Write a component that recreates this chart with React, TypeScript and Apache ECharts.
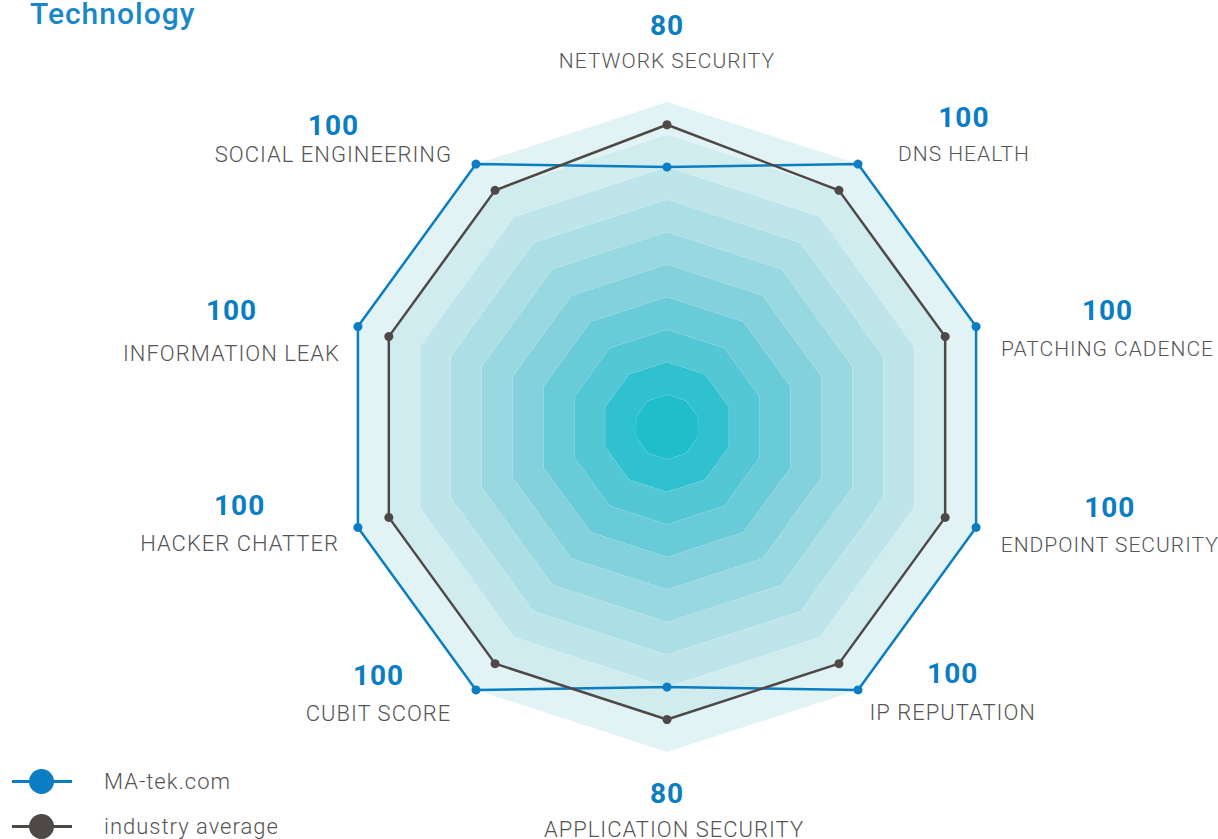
import React, { useEffect, useRef } from 'react';
import * as echarts from 'echarts';

// Indicators in ECharts order (first at top, then counter-clockwise)
const indicatorNames = [
  'NETWORK SECURITY',
  'SOCIAL ENGINEERING',
  'INFORMATION LEAK',
  'HACKER CHATTER',
  'CUBIT SCORE',
  'APPLICATION SECURITY',
  'IP REPUTATION',
  'ENDPOINT SECURITY',
  'PATCHING CADENCE',
  'DNS HEALTH',
];
const maTekScores = [80, 100, 100, 100, 100, 80, 100, 100, 100, 100];
const industryAverage = [93, 90, 90, 90, 90, 90, 90, 90, 90, 90];
const maxScore = 100;
const seriesNames = ['MA-tek.com', 'industry average'];
const seriesColors = ['#0b7dc3', '#4e4846'];
// split-area rings, innermost first
const ringColors = [
  '#20bdcc', '#30c1d0', '#53c7d4', '#6acbd8', '#82d1dc',
  '#98d8e1', '#abdee5', '#bee5ea', '#d0ecef', '#e1f3f5',
];

// label layout per indicator (same order):
// [horizontal shift outward, score line height, name line height, name font size, extra name-only shift]
const labelLayout: [number, number, number, number, number][] = [
  [0, 34, 38, 21, 0],
  [20, 16, 42, 22, 0],
  [5, 68, 18, 22, 0],
  [5, 19, 57, 22, 0],
  [17, 12, 64, 22, 0],
  [0, 38, 34, 22, 14],
  [5, 10, 68, 22, 0],
  [12, 21, 53, 21, 0],
  [12, 58, 18, 21, 0],
  [32, 15, 57, 21, 0],
];

export default function App() {
  const ref = useRef<HTMLDivElement>(null);
  useEffect(() => {
    document.body.style.margin = '0';
    const chart = echarts.init(ref.current as HTMLDivElement, null, { renderer: 'svg' });
    const legendIcon =
      'path://M0,11 L60,11 L60,14 L0,14 Z M17,12.5 A12.5,12.5 0 1,1 42,12.5 A12.5,12.5 0 1,1 17,12.5 Z';

    const rich: Record<string, any> = {};
    labelLayout.forEach(([shift, numLH, nameLH, nameSize, nameShift], i) => {
      const rightSide = i >= 6;
      const leftSide = i >= 1 && i <= 4;
      const pad = [0, leftSide ? shift : 0, 0, rightSide ? shift : 0];
      rich['v' + i] = {
        align: 'center',
        fontFamily: 'Roboto',
        fontWeight: 'bold',
        fontSize: 28,
        color: '#0b7dc3',
        lineHeight: numLH,
        padding: pad,
      };
      rich['n' + i] = {
        align: 'center',
        fontFamily: 'Roboto',
        fontWeight: 300,
        fontSize: nameSize,
        color: '#555555',
        lineHeight: nameLH,
        padding: [0, pad[1], 0, pad[3] + nameShift],
      };
    });

    chart.setOption({
      animation: false,
      title: {
        text: 'Technology',
        left: 25,
        top: -7,
        textStyle: { color: '#1a87c8', fontSize: 30, fontWeight: 500, fontFamily: 'Roboto' },
      },
      legend: {
        orient: 'vertical',
        left: 7,
        top: 764,
        height: 120,
        itemWidth: 60,
        itemHeight: 25,
        itemGap: 20,
        data: seriesNames.map((n) => ({ name: n, icon: legendIcon })),
        itemStyle: { borderWidth: 0 },
        textStyle: {
          fontFamily: 'Roboto',
          fontWeight: 300,
          fontSize: 22,
          color: '#555555',
          padding: [0, 0, 0, 27],
        },
      },
      radar: {
        center: [667, 427],
        radius: 325,
        startAngle: 90,
        shape: 'polygon',
        splitNumber: 10,
        nameGap: 22,
        indicator: indicatorNames.map((n) => ({ name: n, min: 0, max: maxScore })),
        axisLine: { show: false },
        axisTick: { show: false },
        axisLabel: { show: false },
        splitLine: { show: false },
        splitArea: { show: true, areaStyle: { color: ringColors } },
        axisName: {
          formatter: (name: string) => {
            const i = indicatorNames.indexOf(name);
            return '{v' + i + '|' + maTekScores[i] + '}\n{n' + i + '|' + name + '}';
          },
          rich,
        },
      },
      series: [
        {
          type: 'radar',
          symbol: 'circle',
          symbolSize: 9,
          data: [
            {
              name: seriesNames[0],
              value: maTekScores,
              itemStyle: { color: seriesColors[0] },
              lineStyle: { color: seriesColors[0], width: 2.5 },
            },
            {
              name: seriesNames[1],
              value: industryAverage,
              itemStyle: { color: seriesColors[1] },
              lineStyle: { color: seriesColors[1], width: 2.5 },
            },
          ],
        },
      ],
    });
    return () => chart.dispose();
  }, []);
  return <div ref={ref} style={{ width: 1218, height: 839, letterSpacing: '1px' }} />;
}
